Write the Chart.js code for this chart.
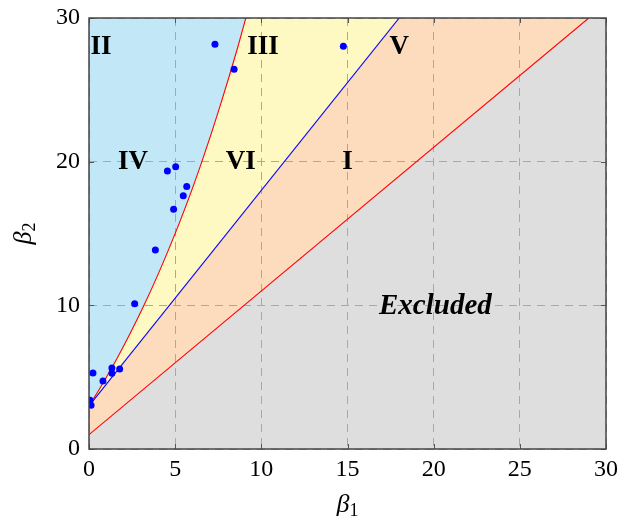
<!DOCTYPE html>
<html lang="en">
<head>
<meta charset="UTF-8">
<title>Pearson system regions</title>
<script src="https://cdn.jsdelivr.net/npm/chart.js"></script>
<style>
  html, body { margin: 0; padding: 0; background: #fff; }
</style>
</head>
<body>
<canvas id="chart" width="623" height="516"></canvas>
<script>
// tick values
const xTickValues = [0, 5, 10, 15, 20, 25, 30];
const yTickValues = [0, 10, 20, 30];

// type V boundary curve (beta1 read at given beta2)
const curveB2 = [3, 3.5, 4, 5, 6, 8, 10, 12, 14, 16, 18, 20, 22, 24, 26, 28, 30];
const curveB1 = [0, 0.26, 0.52, 1.01, 1.49, 2.37, 3.19, 3.95, 4.66, 5.33, 5.96, 6.55, 7.11, 7.64, 8.15, 8.64, 9.10];

// type III line and the lower (excluded) limit
const lineIIIB1 = [0, 18];
const lineIIIB2 = [3, 30];
const limitB1 = [0, 29];
const limitB2 = [1, 30];

// sample points
const sampleB1 = [7.31, 8.42, 4.55, 5.03, 5.67, 5.47, 4.91, 3.85, 2.65, 0.23, 0.81, 1.33, 1.33, 1.78, 0.06, 0.12, 14.76];
const sampleB2 = [28.18, 26.44, 19.35, 19.65, 18.28, 17.63, 16.68, 13.85, 10.11, 5.29, 4.73, 5.64, 5.27, 5.57, 3.39, 3.04, 28.04];

// region names and where they sit
const regionNames = ['II', 'III', 'V', 'IV', 'VI', 'I', 'Excluded'];
const regionB1 = [0.7, 10.1, 18.0, 2.55, 8.8, 15.0, 20.1];
const regionB2 = [28.0, 28.0, 28.0, 20.0, 20.0, 20.0, 9.95];

const pts = (xs, ys) => xs.map((v, i) => ({ x: v, y: ys[i] }));

const serif = '"Liberation Serif", "DejaVu Serif", serif';
Chart.defaults.font.family = serif;
Chart.defaults.color = '#000';

function drawBeta(ctx, sub, cx, cy) {
    ctx.font = 'italic 26px ' + serif;
    const w1 = ctx.measureText('β').width;
    ctx.font = '18px ' + serif;
    const w2 = ctx.measureText(sub).width;
    const x0 = cx - (w1 + w2) / 2;
    ctx.textAlign = 'left';
    ctx.textBaseline = 'alphabetic';
    ctx.font = 'italic 26px ' + serif;
    ctx.fillText('β', x0, cy + 6);
    ctx.font = '18px ' + serif;
    ctx.fillText(sub, x0 + w1, cy + 10);
}

const decor = {
    id: 'decor',
    afterDraw(chart) {
        const { ctx, chartArea: a, scales: { x, y } } = chart;
        ctx.save();
        // small inside ticks on all four sides
        ctx.strokeStyle = '#555';
        ctx.lineWidth = 1;
        ctx.beginPath();
        xTickValues.forEach(t => {
            const px = Math.round(x.getPixelForValue(t)) + 0.5;
            ctx.moveTo(px, a.bottom); ctx.lineTo(px, a.bottom - 5);
            ctx.moveTo(px, a.top); ctx.lineTo(px, a.top + 5);
        });
        yTickValues.forEach(t => {
            const py = Math.round(y.getPixelForValue(t)) + 0.5;
            ctx.moveTo(a.left, py); ctx.lineTo(a.left + 5, py);
            ctx.moveTo(a.right, py); ctx.lineTo(a.right - 5, py);
        });
        ctx.stroke();
        ctx.lineWidth = 1.5;
        ctx.strokeStyle = '#444';
        ctx.strokeRect(a.left, a.top, a.right - a.left, a.bottom - a.top);

        // region labels
        ctx.fillStyle = '#000';
        ctx.textAlign = 'center';
        ctx.textBaseline = 'middle';
        regionNames.forEach((n, i) => {
            ctx.font = n === 'Excluded' ? 'italic bold 29px ' + serif : 'bold 27px ' + serif;
            ctx.fillText(n, x.getPixelForValue(regionB1[i]), y.getPixelForValue(regionB2[i]));
        });

        // axis titles
        drawBeta(ctx, '1', (a.left + a.right) / 2, a.bottom + 57);
        ctx.save();
        ctx.translate(25, (a.top + a.bottom) / 2);
        ctx.rotate(-Math.PI / 2);
        drawBeta(ctx, '2', 0, 0);
        ctx.restore();
        ctx.restore();
    }
};

const gridOpts = { color: '#a8a8a8', lineWidth: 1, drawTicks: false };
const borderOpts = { display: false, dash: [8, 6] };

new Chart(document.getElementById('chart'), {
    type: 'line',
    data: {
        datasets: [
            {
                label: 'samples',
                data: pts(sampleB1, sampleB2),
                showLine: false,
                pointRadius: 3.5,
                pointBackgroundColor: '#0000ff',
                pointBorderWidth: 0,
                fill: false
            },
            {
                label: 'type V curve',
                data: pts(curveB1, curveB2),
                borderColor: '#ff0000',
                borderWidth: 1.1,
                backgroundColor: '#c2e8f8',
                fill: 'end',
                pointRadius: 0,
                cubicInterpolationMode: 'monotone'
            },
            {
                label: 'type III line',
                data: pts(lineIIIB1, lineIIIB2),
                borderColor: '#0000ff',
                borderWidth: 1.1,
                backgroundColor: '#fef8c2',
                fill: 'end',
                pointRadius: 0
            },
            {
                label: 'limit',
                data: pts(limitB1, limitB2),
                borderColor: '#ff0000',
                borderWidth: 1.1,
                backgroundColor: '#fddcbe',
                fill: 'end',
                pointRadius: 0
            },
            {
                label: 'excluded',
                data: pts([0, 30], [0, 0]),
                borderWidth: 0,
                borderColor: 'rgba(0,0,0,0)',
                backgroundColor: '#dedede',
                fill: 'end',
                pointRadius: 0
            }
        ]
    },
    options: {
        responsive: false,
        animation: false,
        events: [],
        layout: { padding: { top: 18, right: 17, left: 0, bottom: 0 } },
        plugins: {
            legend: { display: false },
            tooltip: { enabled: false },
            filler: { drawTime: 'beforeDraw' }
        },
        scales: {
            x: {
                type: 'linear',
                min: 0, max: 30,
                afterBuildTicks: s => { s.ticks = xTickValues.map(v => ({ value: v })); },
                ticks: { font: { size: 24 }, padding: 6, maxRotation: 0 },
                grid: gridOpts,
                border: borderOpts,
                afterFit: s => { s.height = 67; s.paddingLeft = 0; s.paddingRight = 0; }
            },
            y: {
                type: 'linear',
                min: 0, max: 30,
                afterBuildTicks: s => { s.ticks = yTickValues.map(v => ({ value: v })); },
                ticks: { font: { size: 24 }, padding: 9 },
                grid: gridOpts,
                border: borderOpts,
                afterFit: s => { s.width = 89; s.paddingTop = 0; s.paddingBottom = 0; }
            }
        }
    },
    plugins: [decor]
});
</script>
</body>
</html>
